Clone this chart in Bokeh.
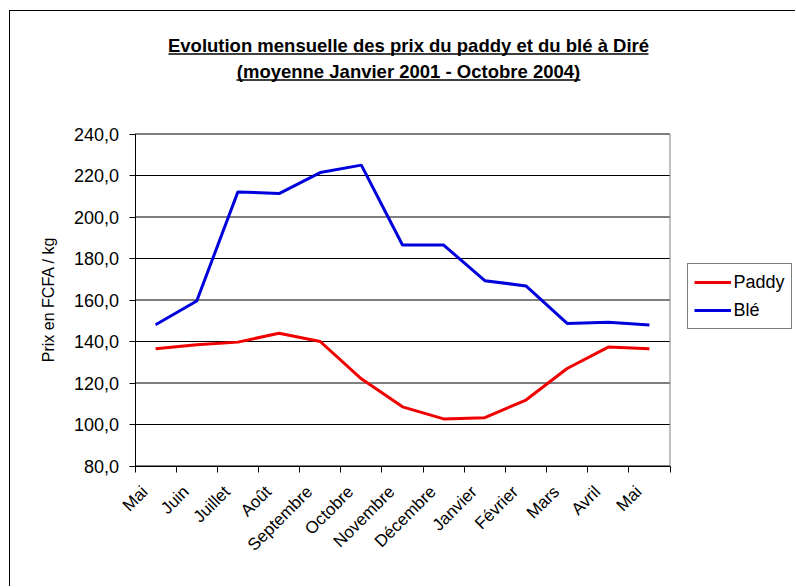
from math import pi

from bokeh.core.properties import value
from bokeh.embed import file_html
from bokeh.models import FixedTicker, Legend, LegendItem, Range1d
from bokeh.plotting import figure
from bokeh.resources import INLINE

# Monthly average prices (FCFA / kg), January 2001 - October 2004
months = ["Mai", "Juin", "Juillet", "Août", "Septembre", "Octobre", "Novembre",
          "Décembre", "Janvier", "Février", "Mars", "Avril", "Mai"]
paddy = [136.5, 138.4, 139.7, 144.0, 140.0, 122.0, 108.5,
         102.7, 103.3, 111.8, 127.0, 137.3, 136.5]
ble = [148.1, 159.5, 212.1, 211.3, 221.4, 225.0, 186.5,
       186.5, 169.3, 166.8, 148.7, 149.3, 147.9]

y_ticks = [80, 100, 120, 140, 160, 180, 200, 220, 240]
y_tick_labels = ["80,0", "100,0", "120,0", "140,0", "160,0",
                 "180,0", "200,0", "220,0", "240,0"]

title_lines = ["Evolution mensuelle des prix du paddy et du blé à Diré",
               "(moyenne Janvier 2001 - Octobre 2004)"]
y_label = "Prix en FCFA / kg"
series_names = ["Paddy", "Blé"]

FONT = "Liberation Sans"
RED = "#F00000"
BLUE = "#0000DC"

# layout (pixels inside the chart box); half-pixel edges keep 1px rules crisp
BOX_X, BOX_Y = 9, 10                  # chart box offset on the page
W, H = 796 - BOX_X - 1, 587 - BOX_Y - 1
AREA_L, AREA_R = 124.5, 659.5         # plot area edges
AREA_T, AREA_B = 122.5, 454.5
LABEL_SHIFT = 0.26                    # month labels sit a little left of centre

n = len(months)
y0, y1 = y_ticks[0], y_ticks[-1]
px_per_unit = (AREA_B - AREA_T) / (y1 - y0)
px_per_cat = (AREA_R - AREA_L) / n
y_lo = y0 - (H - AREA_B) / px_per_unit
y_hi = y1 + AREA_T / px_per_unit
x_lo = -AREA_L / px_per_cat
x_hi = n + (W - AREA_R) / px_per_cat


def fx(px):
    return (px - AREA_L) / px_per_cat


def fy(py):
    return y0 + (AREA_B - py) / px_per_unit


x_centers = [i + 0.5 for i in range(n)]   # points sit between tick marks
x_bounds = list(range(n + 1))
label_pos = [c - LABEL_SHIFT for c in x_centers]

# the frame fills the whole chart box; both axes are pinned to the plot area
p = figure(width=W, height=H, title=None, output_backend="svg",
           toolbar_location=None,
           x_range=Range1d(x_lo, x_hi), y_range=Range1d(y_lo, y_hi),
           min_border_left=0, min_border_right=0,
           min_border_top=0, min_border_bottom=0)
p.margin = (BOX_Y, 0, 0, BOX_X)
p.styles = {"border-left": "1px solid black", "border-top": "1px solid black"}
p.background_fill_color = "white"
p.border_fill_color = "white"
p.outline_line_color = None
p.xgrid.visible = False
p.ygrid.visible = False

# y axis on the left edge of the plot area
ya = p.yaxis[0]
ya.fixed_location = 0
ya.bounds = (y0, y1)
ya.ticker = FixedTicker(ticks=y_ticks, minor_ticks=[])
ya.major_label_overrides = dict(zip(y_ticks, y_tick_labels))
ya.axis_line_color = "black"
ya.major_tick_line_color = "black"
ya.major_tick_in = 0
ya.major_tick_out = 6
ya.minor_tick_line_color = None
ya.major_label_standoff = 10
ya.major_label_text_font = FONT
ya.major_label_text_font_size = "18px"
ya.major_label_text_color = "black"

# x axis on the 80 line: ticks on category boundaries, labels near centres
xa = p.xaxis[0]
xa.fixed_location = y0
xa.bounds = (0, n)
xa.ticker = FixedTicker(ticks=label_pos, minor_ticks=x_bounds)
xa.major_label_overrides = {c: m for c, m in zip(label_pos, months)}
xa.axis_line_color = "black"
xa.major_tick_line_color = None
xa.major_tick_in = 0
xa.major_tick_out = 0
xa.minor_tick_line_color = "black"
xa.minor_tick_in = 0
xa.minor_tick_out = 6
xa.major_label_orientation = pi / 4
xa.major_label_standoff = 17
xa.major_label_text_font = FONT
xa.major_label_text_font_size = "17px"
xa.major_label_text_color = "black"

# horizontal grid across the plot area, grey top and right edges
p.segment(x0=[0] * len(y_ticks), y0=y_ticks, x1=[n] * len(y_ticks),
          y1=y_ticks, line_color="black", line_width=1)
p.line([0, n, n], [y1, y1, y0], line_color="#808080", line_width=1)

r_paddy = p.line(x_centers, paddy, line_color=RED, line_width=3)
r_ble = p.line(x_centers, ble, line_color=BLUE, line_width=3)

# y axis title
p.text(x=[fx(38)], y=[fy(288)], text=[y_label], angle=pi / 2,
       text_align="center", text_baseline="middle",
       text_font=value(FONT), text_font_size="16px", text_color="black")

# underlined two-line title
p.text(x=[fx(398), fx(398)], y=[fy(34), fy(60)], text=title_lines,
       text_align="center", text_baseline="middle",
       text_font=value(FONT), text_font_size="18.5px",
       text_font_style="bold", text_color="black")
p.segment(x0=[fx(158), fx(226)], y0=[fy(42.5), fy(68.5)],
          x1=[fx(638), fx(570)], y1=[fy(42.5), fy(68.5)],
          line_color="black", line_width=1.5)

legend = Legend(items=[LegendItem(label=series_names[0], renderers=[r_paddy]),
                       LegendItem(label=series_names[1], renderers=[r_ble])],
                location=(AREA_R + 17, H - 318))
legend.border_line_color = "black"
legend.border_line_width = 1
legend.background_fill_color = "white"
legend.background_fill_alpha = 1.0
legend.label_text_font = FONT
legend.label_text_font_size = "18px"
legend.label_text_color = "black"
legend.glyph_width = 37
legend.glyph_height = 24
legend.label_standoff = 3
legend.label_height = 24
legend.spacing = 4
legend.padding = 6
legend.margin = 0
p.add_layout(legend)

open("out.html", "w").write(file_html(p, INLINE))
